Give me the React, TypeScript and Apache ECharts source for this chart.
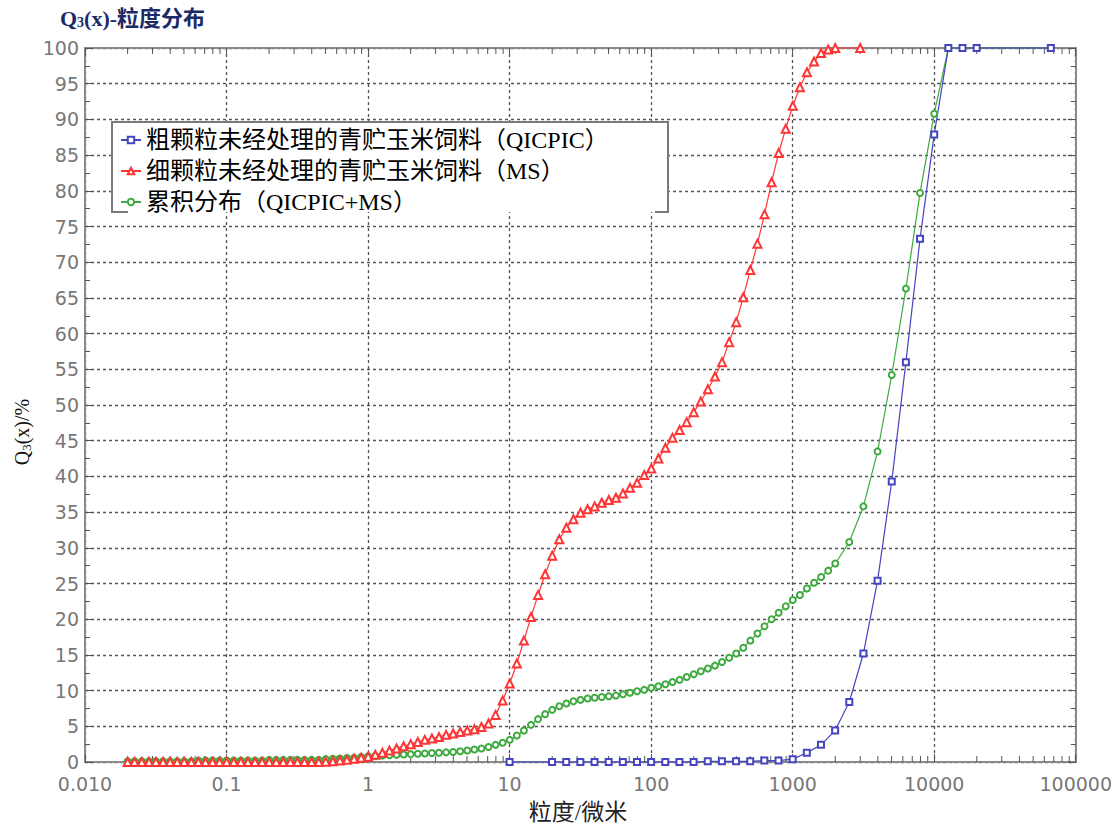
import React, { useEffect, useRef } from "react";
import * as echarts from "echarts";

// Mastersizer size classes (µm)
const msSizes = [
  0.02, 0.0224, 0.0252, 0.0283, 0.0317, 0.0356, 0.0399, 0.0448, 0.0502, 0.0564,
  0.0632, 0.071, 0.0796, 0.0893, 0.1002, 0.1125, 0.1262, 0.1416, 0.1589, 0.1783,
  0.2, 0.2244, 0.2518, 0.2825, 0.317, 0.3557, 0.3991, 0.4477, 0.5024, 0.5637,
  0.6325, 0.7096, 0.7962, 0.8934, 1.002, 1.125, 1.262, 1.416, 1.589, 1.783,
  2.0, 2.244, 2.518, 2.825, 3.17, 3.557, 3.991, 4.477, 5.024, 5.637,
  6.325, 7.096, 7.962, 8.934, 10.02, 11.25, 12.62, 14.16, 15.89, 17.83,
  20.0, 22.44, 25.18, 28.25, 31.7, 35.57, 39.91, 44.77, 50.24, 56.37,
  63.25, 70.96, 79.62, 89.34, 100.2, 112.5, 126.2, 141.6, 158.9, 178.3,
  200.0, 224.4, 251.8, 282.5, 317.0, 355.7, 399.1, 447.7, 502.4, 563.7,
  632.5, 709.6, 796.2, 893.4, 1002, 1125, 1262, 1416, 1589, 1783,
  2000,
];

// Fine fraction (MS), Q3 %
const redValues = [
  0, 0, 0, 0, 0, 0, 0, 0, 0, 0,
  0, 0, 0, 0, 0, 0, 0, 0, 0, 0,
  0, 0, 0, 0, 0, 0, 0, 0, 0.05, 0.1,
  0.2, 0.3, 0.45, 0.6, 0.75, 1.0, 1.3, 1.6, 1.9, 2.2,
  2.5, 2.8, 3.1, 3.3, 3.5, 3.8, 4.0, 4.2, 4.4, 4.6,
  4.9, 5.4, 6.6, 8.6, 11.0, 13.8, 17.0, 20.3, 23.4, 26.3,
  28.9, 31.2, 32.8, 34.0, 34.9, 35.4, 35.8, 36.3, 36.7, 37.0,
  37.6, 38.4, 39.1, 40.2, 41.1, 42.5, 44.0, 45.4, 46.5, 47.6,
  49.0, 50.5, 52.2, 54.0, 56.0, 58.8, 61.6, 65.1, 68.9, 72.6,
  76.7, 81.2, 85.3, 88.7, 91.9, 94.5, 96.6, 98.1, 99.3, 99.8,
  100,
];
const redTailSizes = [3000];
const redTailValues = [100];

// Combined distribution on MS classes
const greenMsValues = [
  0.1, 0.1, 0.1, 0.1, 0.1, 0.1, 0.1, 0.1, 0.1, 0.1,
  0.2, 0.2, 0.2, 0.2, 0.2, 0.2, 0.2, 0.2, 0.2, 0.2,
  0.3, 0.3, 0.3, 0.3, 0.3, 0.3, 0.3, 0.3, 0.4, 0.45,
  0.5, 0.55, 0.6, 0.7, 0.8, 0.85, 0.9, 0.95, 1.0, 1.05,
  1.1, 1.15, 1.2, 1.25, 1.3, 1.35, 1.4, 1.5, 1.6, 1.75,
  1.9, 2.1, 2.4, 2.7, 3.1, 3.7, 4.4, 5.2, 6.0, 6.7,
  7.3, 7.8, 8.2, 8.5, 8.7, 8.9, 9.0, 9.1, 9.2, 9.3,
  9.5, 9.7, 9.9, 10.1, 10.4, 10.6, 10.9, 11.2, 11.5, 11.9,
  12.3, 12.7, 13.1, 13.5, 14.0, 14.6, 15.2, 16.0, 17.0, 18.0,
  19.0, 20.0, 20.9, 21.8, 22.7, 23.4, 24.3, 25.1, 25.9, 26.8,
  27.8,
];
// Combined distribution on QICPIC classes above MS range
const greenTailSizes = [2512, 3162, 3981, 5012, 6310, 7943, 10000, 12589, 15849, 19953, 66700];
const greenTailValues = [30.8, 35.8, 43.5, 54.2, 66.3, 79.7, 90.8, 100, 100, 100, 100];

// Coarse fraction (QICPIC)
const blueSizes = [
  10, 19.95, 25.12, 31.62, 39.81, 50.12, 63.1, 79.43, 100, 125.9,
  158.5, 199.5, 251.2, 316.2, 398.1, 501.2, 631, 794.3, 1000, 1259,
  1585, 1995, 2512, 3162, 3981, 5012, 6310, 7943, 10000, 12589,
  15849, 19953, 66700,
];
const blueValues = [
  0, 0, 0, 0, 0, 0, 0, 0, 0, 0,
  0, 0, 0.1, 0.1, 0.1, 0.1, 0.2, 0.2, 0.4, 1.3,
  2.4, 4.4, 8.4, 15.2, 25.4, 39.3, 56, 73.3, 87.9, 100,
  100, 100, 100,
];

const xTickValues = [0.01, 0.1, 1, 10, 100, 1000, 10000, 100000];
const xTickLabels = ["0.010", "0.1", "1", "10", "100", "1000", "10000", "100000"];
const minorDecades = [0.01, 0.1, 1, 10, 100, 1000, 10000];
const minorMultipliers = [2, 3, 4, 5, 6, 7, 8, 9];

const seriesNames = [
  "粗颗粒未经处理的青贮玉米饲料（QICPIC）",
  "细颗粒未经处理的青贮玉米饲料（MS）",
  "累积分布（QICPIC+MS）",
];

const SERIF = "'Liberation Serif','Noto Sans CJK SC',serif";
const SANS = "'DejaVu Sans',sans-serif";

const pairs = (xs: number[], ys: number[]) => xs.map((x, i) => [x, ys[i]]);

export default function App() {
  const ref = useRef<HTMLDivElement>(null);
  useEffect(() => {
    document.body.style.margin = "0";
    const chart = echarts.init(ref.current!, undefined, { renderer: "svg" });
    const minorTicks: number[][] = [];
    minorDecades.forEach((d) => minorMultipliers.forEach((m) => minorTicks.push([d * m, 0])));

    const fmt = (v: number) => {
      for (let i = 0; i < xTickValues.length; i++) {
        if (Math.abs(Math.log10(v) - Math.log10(xTickValues[i])) < 1e-6) return xTickLabels[i];
      }
      return "";
    };

    const frame = { color: "#8a8a8a", width: 2 };
    const grid = { color: "#555", type: [3, 3] as any, width: 1.3 };

    chart.setOption({
      animation: false,
      backgroundColor: "#fff",
      grid: { left: 85, right: 35, top: 48, bottom: 66 },
      xAxis: [
        {
          type: "log",
          logBase: 10,
          min: 0.01,
          max: 100000,
          interval: 1,
          position: "bottom",
          axisLine: { show: true, onZero: false, lineStyle: frame },
          axisTick: { show: true, inside: true, length: 8, lineStyle: { color: "#555" } },
          axisLabel: { formatter: fmt, color: "#777", fontSize: 19, lineHeight: 19, fontFamily: SANS, margin: 12 },
          splitLine: { show: true, lineStyle: grid },
        },
        {
          type: "log",
          logBase: 10,
          min: 0.01,
          max: 100000,
          interval: 1,
          position: "top",
          axisLine: { show: true, onZero: false, lineStyle: frame },
          axisTick: { show: true, inside: true, length: 8, lineStyle: { color: "#555" } },
          axisLabel: { show: false },
          splitLine: { show: false },
        },
      ],
      yAxis: [
        {
          type: "value",
          min: 0,
          max: 100,
          interval: 5,
          position: "left",
          axisLine: { show: true, lineStyle: frame },
          axisTick: { show: true, inside: true, length: 8, lineStyle: { color: "#555" } },
          minorTick: { show: true, splitNumber: 2, length: 5, lineStyle: { color: "#555" } },
          axisLabel: { color: "#777", fontSize: 19, lineHeight: 17, fontFamily: SANS, margin: 6 },
          splitLine: { show: true, lineStyle: grid },
        },
        {
          type: "value",
          min: 0,
          max: 100,
          interval: 5,
          position: "right",
          axisLine: { show: true, lineStyle: frame },
          axisTick: { show: true, inside: true, length: 8, lineStyle: { color: "#555" } },
          minorTick: { show: true, splitNumber: 2, length: 5, lineStyle: { color: "#555" } },
          axisLabel: { show: false },
          splitLine: { show: false },
        },
      ],
      legend: {
        data: seriesNames,
        orient: "vertical",
        left: 120,
        top: 128,
        itemWidth: 20,
        itemHeight: 8,
        itemGap: 7,
        padding: 0,
        z: 6,
        textStyle: { fontFamily: SERIF, fontSize: 24, color: "#000", lineHeight: 24 },
      },
      graphic: [
        {
          type: "rect",
          z: 5,
          shape: { x: 112, y: 122, width: 556, height: 90 },
          style: { fill: "#fff" },
          silent: true,
        },
        {
          type: "polyline",
          z: 5,
          shape: { points: [[128, 212], [112, 212], [112, 122], [668, 122], [668, 212], [655, 212]] },
          style: { stroke: "#7a7a7a", lineWidth: 2, fill: null },
          silent: true,
        },
        {
          type: "text",
          x: 60,
          y: 18,
          style: {
            text: "{a|Q}{b|3}{a|(x)-粒度分布}",
            verticalAlign: "middle",
            rich: {
              a: { fontFamily: SERIF, fontSize: 22, fontWeight: "bold", fill: "#1b2a66", color: "#1b2a66" },
              b: { fontFamily: SERIF, fontSize: 14, fontWeight: "bold", fill: "#1b2a66", color: "#1b2a66", verticalAlign: "bottom", padding: [8, 0, 0, 0] },
            },
          },
        },
        {
          type: "text",
          x: 22,
          y: 432,
          rotation: Math.PI / 2,
          style: {
            text: "{a|Q}{b|3}{a|(x)/%}",
            align: "center",
            verticalAlign: "middle",
            rich: {
              a: { fontFamily: SERIF, fontSize: 20, fill: "#111", color: "#111" },
              b: { fontFamily: SERIF, fontSize: 13, fill: "#111", color: "#111", verticalAlign: "bottom", padding: [8, 0, 0, 0] },
            },
          },
        },
        {
          type: "text",
          x: 578,
          y: 812,
          style: {
            text: "粒度/微米",
            align: "center",
            verticalAlign: "middle",
            fontFamily: SERIF,
            fontSize: 23,
            fill: "#222",
          },
        },
      ],
      series: [
        {
          name: "minorTicks",
          type: "custom",
          silent: true,
          z: 3,
          clip: false,
          data: minorTicks,
          renderItem: (params: any, api: any) => {
            const v = api.value(0);
            const pb = api.coord([v, 0]);
            const pt = api.coord([v, 100]);
            const st = { stroke: "#555", lineWidth: 1 };
            return {
              type: "group",
              children: [
                { type: "line", shape: { x1: pb[0], y1: pb[1], x2: pb[0], y2: pb[1] - 6 }, style: st },
                { type: "line", shape: { x1: pt[0], y1: pt[1], x2: pt[0], y2: pt[1] + 6 }, style: st },
              ],
            };
          },
        },
        {
          name: seriesNames[2],
          type: "line",
          data: pairs(msSizes, greenMsValues).concat(pairs(greenTailSizes, greenTailValues)),
          symbol: "emptyCircle",
          symbolSize: 6,
          clip: false,
          lineStyle: { color: "#3faa3f", width: 1.2 },
          itemStyle: { color: "#3faa3f", borderWidth: 1 },
        },
        {
          name: seriesNames[1],
          type: "line",
          data: pairs(msSizes, redValues).concat(pairs(redTailSizes, redTailValues)),
          symbol: "emptyTriangle",
          symbolSize: 8,
          clip: false,
          lineStyle: { color: "#ff3535", width: 1.2 },
          itemStyle: { color: "#ff3535", borderWidth: 1 },
        },
        {
          name: seriesNames[0],
          type: "line",
          data: pairs(blueSizes, blueValues),
          symbol: "emptyRect",
          symbolSize: 6,
          clip: false,
          lineStyle: { color: "#4545c0", width: 1.2 },
          itemStyle: { color: "#4545c0", borderWidth: 1.2 },
        },
      ],
    });
    return () => chart.dispose();
  }, []);
  return <div ref={ref} style={{ width: 1115, height: 828 }} />;
}
